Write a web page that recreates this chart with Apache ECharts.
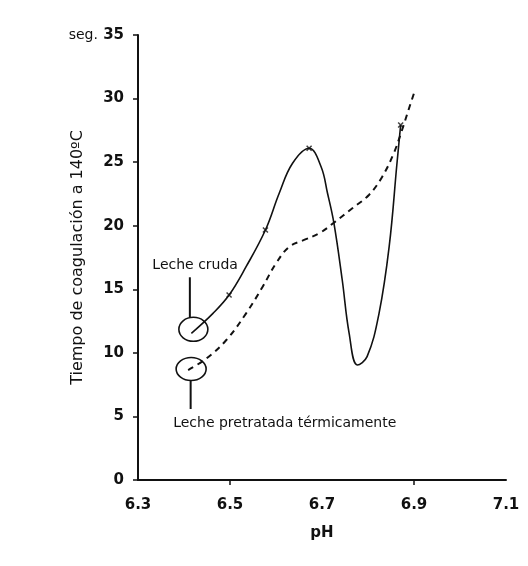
<!DOCTYPE html>
<html>
<head>
<meta charset="utf-8">
<script src="https://cdn.jsdelivr.net/npm/echarts@6/dist/echarts.min.js"></script>
<style>
html,body{margin:0;padding:0;background:#fff;}
#chart{width:528px;height:566px;}
</style>
</head>
<body>
<div id="chart"></div>
<script>
// ---- data ----
const xTicks = [6.3, 6.5, 6.7, 6.9, 7.1];
const xTickMarks = [6.5, 6.9];
const yTicks = [0, 5, 10, 15, 20, 25, 30, 35];

const crudaX = [6.416, 6.463, 6.498, 6.535, 6.577, 6.607, 6.636, 6.672, 6.698, 6.712, 6.726, 6.744, 6.759, 6.777, 6.798, 6.824, 6.846, 6.863, 6.871];
const crudaY = [11.54, 13.11, 14.55, 16.78, 19.66, 22.55, 24.91, 26.09, 24.64, 22.55, 20.19, 15.73, 11.54, 9.05, 9.70, 13.11, 18.35, 24.91, 27.92];

const crudaMarkX = [6.498, 6.577, 6.672, 6.871];
const crudaMarkY = [14.55, 19.66, 26.09, 27.92];

const pretX = [6.409, 6.449, 6.492, 6.535, 6.571, 6.600, 6.629, 6.661, 6.694, 6.726, 6.766, 6.802, 6.831, 6.856, 6.874, 6.888, 6.900];
const pretY = [8.65, 9.57, 11.01, 13.11, 15.20, 17.04, 18.35, 18.88, 19.40, 20.24, 21.37, 22.42, 23.86, 25.70, 27.53, 29.10, 30.42];

const labelCruda = 'Leche cruda';
const labelPret = 'Leche pretratada térmicamente';
const yName = 'Tiempo de coagulación a 140ºC';
const xName = 'pH';
const yUnit = 'seg.';

const zip = (a, b) => a.map((v, i) => [v, b[i]]);

const chart = echarts.init(document.getElementById('chart'));
const font = '"DejaVu Sans", sans-serif';

chart.setOption({
  backgroundColor: '#fff',
  animation: false,
  grid: {left: 138, right: 22, top: 35, bottom: 86, containLabel: false},
  xAxis: {
    type: 'value', min: 6.3, max: 7.1,
    name: xName, nameLocation: 'middle', nameGap: 46,
    nameTextStyle: {fontFamily: font, fontSize: 15, fontWeight: 'bold', color: '#111'},
    axisLine: {lineStyle: {color: '#111', width: 2}},
    axisTick: {show: true, length: 5, lineStyle: {color: '#111', width: 1.5}, customValues: xTickMarks},
    axisLabel: {customValues: xTicks, margin: 18, fontFamily: font, fontSize: 15, fontWeight: 'bold', color: '#111',
      formatter: v => v.toFixed(1)},
    splitLine: {show: false}
  },
  yAxis: {
    type: 'value', min: 0, max: 35, interval: 5,
    name: yName, nameLocation: 'middle', nameGap: 52, nameRotate: 90, nameMoveOverlap: false,
    nameTextStyle: {fontFamily: font, fontSize: 16, color: '#111'},
    axisLine: {show: true, lineStyle: {color: '#111', width: 2}},
    axisTick: {show: true, length: 5, lineStyle: {color: '#111', width: 1.5}},
    axisLabel: {margin: 14, fontFamily: font, fontSize: 15, fontWeight: 'bold', color: '#111',
      formatter: v => v === 35 ? '{u|' + yUnit + '} ' + v : String(v),
      rich: {u: {fontFamily: font, fontSize: 14, fontWeight: 'normal', color: '#111'}}},
    splitLine: {show: false}
  },
  series: [
    {
      type: 'line', name: labelCruda, data: zip(crudaX, crudaY),
      smooth: 0.4, showSymbol: false,
      lineStyle: {color: '#111', width: 1.6}
    },
    {
      type: 'line', name: labelPret, data: zip(pretX, pretY),
      smooth: 0.4, showSymbol: false,
      lineStyle: {color: '#111', width: 2, type: [6, 5]}
    },
    {
      type: 'scatter', data: zip(crudaMarkX, crudaMarkY),
      symbol: 'path://M0,0L10,10M10,0L0,10', symbolSize: 5,
      itemStyle: {color: 'none', borderColor: '#111', borderWidth: 1.5}
    }
  ]
});

// annotations anchored to data
const p1 = chart.convertToPixel({gridIndex: 0}, [crudaX[0], crudaY[0]]);
const p2 = chart.convertToPixel({gridIndex: 0}, [pretX[0], pretY[0]]);
const e1 = [p1[0] + 2, p1[1] - 4];
const e2 = [p2[0] + 3, p2[1] - 1];
chart.setOption({
  graphic: [
    {type: 'ellipse', shape: {cx: e1[0], cy: e1[1], rx: 14.5, ry: 12}, style: {fill: 'none', stroke: '#111', lineWidth: 1.6}},
    {type: 'line', shape: {x1: e1[0] - 3.5, y1: e1[1] - 12, x2: e1[0] - 3.5, y2: e1[1] - 52}, style: {stroke: '#111', lineWidth: 2}},
    {type: 'text', style: {x: e1[0] - 41, y: e1[1] - 64, text: labelCruda, fontFamily: font, fontSize: 14, fill: '#111', verticalAlign: 'middle'}},
    {type: 'ellipse', shape: {cx: e2[0], cy: e2[1], rx: 15, ry: 11.5}, style: {fill: 'none', stroke: '#111', lineWidth: 1.6}},
    {type: 'line', shape: {x1: e2[0] - 0.5, y1: e2[1] + 11.5, x2: e2[0] - 0.5, y2: e2[1] + 40}, style: {stroke: '#111', lineWidth: 2}},
    {type: 'text', style: {x: e2[0] - 18, y: e2[1] + 54, text: labelPret, fontFamily: font, fontSize: 14, fill: '#111', verticalAlign: 'middle'}}
  ]
});
</script>
</body>
</html>
